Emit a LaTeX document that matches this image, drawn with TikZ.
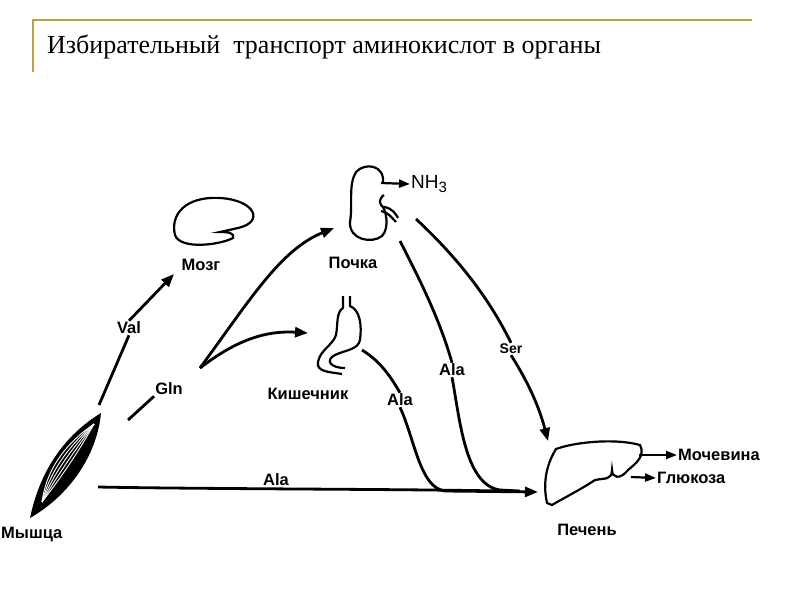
\documentclass[tikz,border=0pt]{standalone}
\usepackage{fontspec}
\setmainfont{Liberation Serif}
\newfontfamily\lab{Liberation Sans}
\usetikzlibrary{arrows.meta}
\begin{document}
\begin{tikzpicture}[x=1pt,y=-1pt,
  conn/.style={line width=2.8pt,-{Triangle[length=13pt,width=10pt]}},
  plain/.style={line width=2.8pt},
  organ/.style={line width=2.2pt},
  small/.style={line width=2.2pt,-{Triangle[length=11pt,width=8pt]}},
  lbl/.style={font=\lab\bfseries\fontsize{16.5}{18}\selectfont,inner sep=1pt}]
\useasboundingbox (0,0) rectangle (800,600);
\fill[white] (0,0) rectangle (800,600);
\draw[line width=2.5pt,color={rgb,255:red,190;green,160;blue,70}] (33,72) -- (33,20) -- (752,20);
\node[anchor=base west,font=\fontsize{26}{28}\selectfont,inner sep=0] (title) at (47,53) {Избирательный\ \ транспорт аминокислот в органы};
% brain
\draw[organ] (238,228) .. controls (265,222) and (255,200) .. (220,198) .. controls (185,196) and (170,215) .. (175,235) .. controls (180,250) and (220,245) .. (233,238) .. controls (235,233) and (228,232) .. (220,232) -- cycle;
\node[lbl] (brain) at (201,265) {Мозг};
% kidney
\draw[organ] (383,183) .. controls (385,165) and (365,162) .. (356,172) .. controls (348,185) and (353,205) .. (350,222) .. controls (349,240) and (372,244) .. (382,236) .. controls (390,228) and (386,208) .. (381,205) .. controls (378,201) and (382,196) .. (384,195);
\draw[organ] (381,211) .. controls (388,212) and (392,218) .. (396,222);
\draw[organ] (384,207) .. controls (392,208) and (396,214) .. (398,218);
\node[lbl] (kidney) at (353,263) {Почка};
\node[anchor=west,font=\lab\fontsize{19}{21}\selectfont,inner sep=1pt] (nh3) at (410,184) {NH\raisebox{-4pt}{\fontsize{15}{17}\selectfont 3}};
\draw[small] (381,183) -- (nh3.west);
% intestine
\draw[organ] (343,296) -- (343,308) .. controls (336,312) and (338,325) .. (336,335) .. controls (333,345) and (320,350) .. (318,362) .. controls (316,372) and (330,372) .. (342,374);
\draw[organ] (350,296) -- (350,306) .. controls (360,310) and (362,325) .. (360,340) .. controls (358,350) and (345,350) .. (335,355) .. controls (325,360) and (330,368) .. (345,368);
\node[lbl] (gut) at (308,394) {Кишечник};
% muscle
\fill (30,518) .. controls (40,470) and (65,435) .. (101,413) .. controls (97,455) and (70,495) .. (30,518);
\foreach \d in {-8,-4,0,4,8}
  \draw[white,line width=0.9pt] (42,502) .. controls (55+\d,470+\d*0.6) and (75+\d*0.6,445+\d*0.6) .. (94,424);
\node[lbl,anchor=west] (muscle) at (0,534) {Мышца};
% liver
\draw[organ] (547,503) .. controls (542,480) and (548,462) .. (556,449) .. controls (575,442) and (615,438) .. (640,445) .. controls (645,455) and (638,462) .. (628,470) .. controls (620,480) and (612,478) .. (612,470) .. controls (612,480) and (605,478) .. (595,480) .. controls (580,490) and (560,500) .. (552,505) -- cycle;
\node[lbl] (liver) at (587,530) {Печень};
\node[lbl,anchor=west] (urea) at (677,455) {Мочевина};
\node[lbl,anchor=west] (gluc) at (656,478) {Глюкоза};
\draw[small] (639,455) -- (urea.west);
\draw[small] (631,477) -- (gluc.west);
% Val
\node[lbl] (val) at (129,328) {Val};
\draw[plain] (99,405) -- (val.south);
\draw[conn] (val.north) -- (174,274);
% Gln
\node[lbl] (gln) at (169,389) {Gln};
\draw[plain] (128,420) -- (gln.south west);
\coordinate (g0) at (200,368);
\draw[conn] (g0) .. controls (250,300) and (280,250) .. (334,228);
\draw[conn] (g0) .. controls (230,345) and (260,330) .. (308,333);
% Ala bottom
\node[lbl] (ala1) at (276,480) {Ala};
\coordinate (lin) at (538,492);
\draw[plain] (98,487) .. controls (200,489) and (400,489) .. (500,491);
% Ala from gut
\node[lbl] (ala2) at (400,400) {Ala};
\draw[plain] (362,350) .. controls (378,360) and (388,372) .. (ala2.north);
\draw[conn] (ala2.south) .. controls (415,440) and (420,488) .. (445,491) -- (lin);
% Ala from kidney
\node[lbl] (ala3) at (452,370) {Ala};
\draw[plain] (400,241) .. controls (420,280) and (440,320) .. (ala3.north);
\draw[plain] (ala3.south) .. controls (460,420) and (465,485) .. (500,490) -- (520,491);
% Ser
\node[lbl] (ser) at (511,349) {\fontsize{14}{16}\selectfont Ser};
\draw[plain] (416,219) .. controls (460,260) and (490,300) .. (ser.north);
\draw[conn] (ser.south) .. controls (530,385) and (540,410) .. (548,441);
\end{tikzpicture}
\end{document}
